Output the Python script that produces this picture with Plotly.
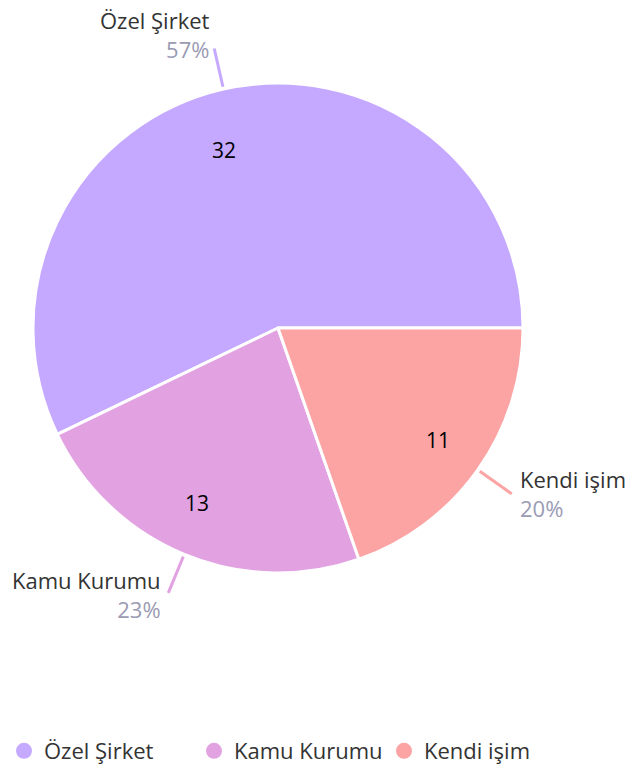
import math
import plotly.graph_objects as go

# ── Datos ────────────────────────────────────────────────────────────────────
etiquetas = ["Özel Şirket", "Kamu Kurumu", "Kendi işim"]
valores = [32, 13, 11]
colores = ["#C5A8FF", "#E2A2E2", "#FCA3A3"]

# ── Geometría (px) ───────────────────────────────────────────────────────────
W, H = 635, 768
CX, CY, R = 278, 328, 245          # centro y radio del pastel (desde arriba)
FUENTE = "'Open Sans', Lato, sans-serif"
GRIS = "#9B9BB4"
TEXTO = "#333333"

# desplazamientos de etiquetas (estilo, px; dy positivo = hacia abajo)
ajuste_x = [-2, -5, 6]
ajuste_y = [14, -2, 0]
valor_dx = [-11, -8, 4]
valor_dy = [8, -2, 1]

total = sum(valores)
fracs = [v / total for v in valores]

# ángulos medios (inicio a las 3 en punto, sentido antihorario)
medios = []
acum = 0.0
for f in fracs:
    medios.append(2 * math.pi * (acum + f / 2))
    acum += f

fig = go.Figure()

# plotly (antihorario) termina el primer sector en "rotation"
fig.add_trace(go.Pie(
    labels=etiquetas, values=valores, sort=False,
    direction="counterclockwise", rotation=90 - 360 * fracs[0],
    marker=dict(colors=colores, line=dict(color="white", width=3)),
    textinfo="none", hoverinfo="label+value+percent",
    showlegend=False,
    domain=dict(x=[(CX - R) / W, (CX + R) / W],
                y=[(H - CY - R) / H, (H - CY + R) / H]),
))

# líneas guía y etiquetas
anotaciones = []
for i, (lab, val, f, a, c) in enumerate(zip(etiquetas, valores, fracs, medios, colores)):
    ca, sa = math.cos(a), math.sin(a)
    fig.add_trace(go.Scatter(
        x=[1.01 * ca, 1.17 * ca], y=[1.01 * sa, 1.17 * sa],
        mode="lines", line=dict(color=c, width=3),
        hoverinfo="skip", showlegend=False,
    ))
    derecha = ca >= 0
    anotaciones.append(dict(
        x=1.17 * ca, y=1.17 * sa, xref="x", yref="y",
        text=f"{lab}<br><span style='color:{GRIS}'>{round(f * 100)}%</span>",
        showarrow=False, align="left" if derecha else "right",
        xanchor="left" if derecha else "right", yanchor="middle",
        xshift=ajuste_x[i], yshift=ajuste_y[i],
        font=dict(family=FUENTE, size=22, color=TEXTO),
    ))
    anotaciones.append(dict(
        x=0.78 * ca, y=0.78 * sa, xref="x", yref="y",
        text=str(val), showarrow=False,
        xshift=valor_dx[i], yshift=-valor_dy[i],
        font=dict(family=FUENTE, size=21, color="#000000"),
    ))

# leyenda con círculos
for lab, c in zip(etiquetas, colores):
    fig.add_trace(go.Scatter(
        x=[None], y=[None], mode="markers", name=lab,
        marker=dict(color=c, size=16, symbol="circle"),
    ))

fig.update_layout(
    width=W, height=H,
    margin=dict(l=0, r=0, t=0, b=0, autoexpand=False),
    paper_bgcolor="white", plot_bgcolor="white",
    font=dict(family=FUENTE, size=22, color=TEXTO),
    xaxis=dict(visible=False, domain=[0, 1],
               range=[-CX / R, (W - CX) / R], fixedrange=True),
    yaxis=dict(visible=False, domain=[0, 1],
               range=[-(H - CY) / R, CY / R], fixedrange=True),
    annotations=anotaciones,
    showlegend=True,
    legend=dict(orientation="h", x=4 / W, xanchor="left",
                y=(H - 751) / H, yanchor="middle",
                itemsizing="trace", entrywidth=145,
                font=dict(size=22, color=TEXTO),
                bgcolor="rgba(0,0,0,0)"),
)

# sin el margen por defecto del <body>
fig.write_html("out.html", config={"displayModeBar": False},
               post_script="document.body.style.margin='0';")
